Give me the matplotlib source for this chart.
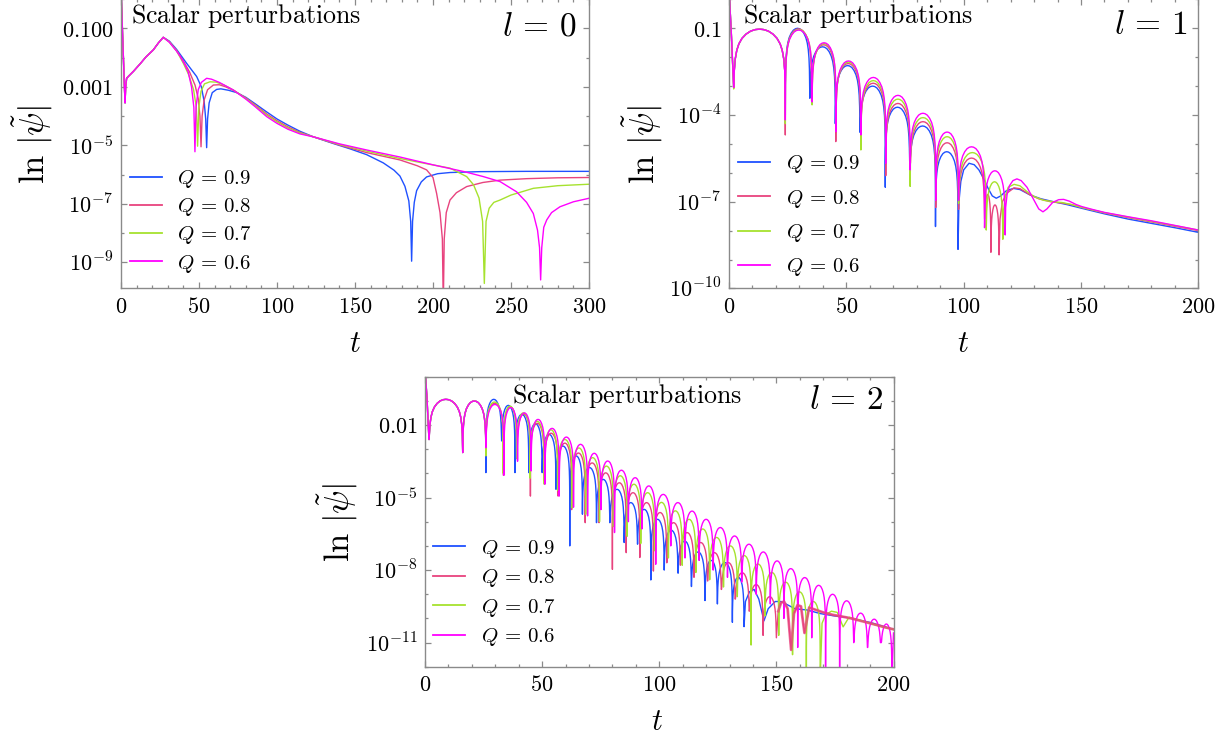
import matplotlib
matplotlib.use("Agg")
import matplotlib.pyplot as plt
from matplotlib.ticker import FixedLocator, FixedFormatter, NullFormatter
from matplotlib.lines import Line2D

plt.rcParams['mathtext.fontset'] = 'cm'
plt.rcParams['font.family'] = ['DejaVu Serif']

# ---------------- data (values are log10 |psi|) ----------------
Q_LABELS = [r'$Q\,=\,0.9$', r'$Q\,=\,0.8$', r'$Q\,=\,0.7$', r'$Q\,=\,0.6$']
COLORS = ['#1f50ff', '#e8437e', '#a6e22e', '#ff00ff']

# ---- l = 0 (smooth curves, read point by point)
L0_HEAD_T = [0.0, 1.2, 2.2, 2.6, 3.0, 3.6, 5.0, 8.0, 12.2, 16.0, 20.7, 24.0, 27.1]
L0_HEAD_V = [0.4, -1.5, -3.0, -3.55, -3.0, -2.71, -2.63, -2.47, -2.22, -1.98, -1.74, -1.5, -1.31]

L0_Q09_T = [31.0, 35.6, 42.1, 48.5, 51.5, 53.3, 54.3, 54.9, 55.5, 56.5, 58.5, 61.3, 64.0, 69.0, 74.2, 80.0, 86.0,
            93.4, 100.0, 107.0, 114.7, 123.3, 135.0, 146.8, 157.5, 168.1, 175.0, 178.8, 182.0, 184.5, 185.7, 186.3,
            186.9, 188.0, 189.5, 192.5, 195.9, 203.0, 210.9, 230.0, 260.0, 300.0]
L0_Q09_V = [-1.44, -1.72, -2.20, -2.65, -3.0, -3.5, -4.1, -5.08, -4.1, -3.55, -3.2, -3.09, -3.07, -3.12, -3.2, -3.36,
            -3.58, -3.86, -4.1, -4.31, -4.52, -4.71, -4.92, -5.12, -5.32, -5.6, -5.85, -6.05, -6.4, -6.9, -7.6, -8.96,
            -7.6, -6.95, -6.55, -6.25, -6.08, -5.97, -5.93, -5.9, -5.89, -5.89]

L0_Q08_T = [31.0, 35.6, 40.0, 44.0, 47.5, 49.5, 50.6, 51.3, 52.0, 53.3, 55.5, 59.2, 63.0, 67.0, 72.0, 80.0, 86.0,
            93.4, 100.0, 107.0, 114.7, 123.3, 140.0, 157.5, 178.8, 190.0, 195.9, 200.0, 202.3, 204.5, 206.0, 206.6,
            207.2, 208.5, 210.9, 215.0, 221.6, 232.0, 243.0, 260.0, 280.0, 300.0]
L0_Q08_V = [-1.46, -1.76, -2.12, -2.5, -2.95, -3.4, -4.0, -5.05, -4.0, -3.45, -3.1, -2.94, -2.93, -3.0, -3.12, -3.38,
            -3.62, -3.93, -4.16, -4.37, -4.56, -4.71, -4.99, -5.25, -5.5, -5.7, -5.84, -6.1, -6.64, -7.3, -8.2, -10.5,
            -8.2, -7.3, -6.87, -6.62, -6.41, -6.27, -6.19, -6.14, -6.11, -6.10]

L0_Q07_T = [31.0, 35.6, 40.0, 43.5, 46.5, 48.3, 49.1, 49.9, 51.3, 53.5, 57.0, 61.0, 66.0, 72.0, 80.0, 86.0, 93.4,
            100.0, 107.0, 114.7, 123.3, 140.0, 157.5, 178.8, 195.0, 210.9, 221.6, 226.0, 229.5, 231.8, 232.9, 234.0,
            236.0, 239.0, 243.0, 250.0, 264.3, 280.0, 300.0]
L0_Q07_V = [-1.47, -1.77, -2.2, -2.6, -3.1, -3.7, -5.03, -3.7, -3.15, -2.9, -2.83, -2.84, -2.94, -3.11, -3.40, -3.65,
            -3.97, -4.2, -4.41, -4.58, -4.71, -4.97, -5.2, -5.45, -5.62, -5.78, -6.07, -6.35, -6.8, -7.6, -9.72, -7.6,
            -7.15, -6.95, -6.87, -6.7, -6.47, -6.38, -6.33]

L0_Q06_T = [31.0, 35.6, 37.8, 41.0, 43.1, 45.2, 46.7, 47.4, 48.1, 49.5, 51.5, 54.9, 58.0, 63.0, 72.0, 80.0, 86.0,
            93.4, 100.0, 107.0, 114.7, 123.3, 140.0, 157.5, 178.8, 200.2, 220.0, 232.3, 243.0, 253.6, 260.0, 264.3,
            267.0, 268.3, 269.0, 269.7, 271.0, 272.9, 276.0, 281.4, 290.0, 300.0]
L0_Q06_V = [-1.48, -1.78, -1.95, -2.25, -2.5, -3.0, -3.7, -5.22, -3.7, -3.1, -2.85, -2.71, -2.74, -2.85, -3.11, -3.42,
            -3.68, -4.02, -4.25, -4.45, -4.61, -4.71, -4.95, -5.16, -5.4, -5.67, -5.9, -6.07, -6.24, -6.59, -6.95,
            -7.33, -7.9, -8.5, -9.6, -8.5, -7.8, -7.55, -7.3, -7.10, -6.93, -6.81]

# ---- l = 1 (ringing: dip times, dip depths, lobe peaks, then late tail)
L1_HEAD_T = [0.0, 1.0, 2.0]
L1_HEAD_V = [0.4, -1.2, -3.05]

L1_Q09_DIPS = [2.0, 24.0, 34.4, 45.3, 55.8, 66.6, 77.0, 88.0, 97.6]
L1_Q09_DEPTH = [-3.05, -4.0, -3.42, -4.3, -4.6, -6.5, -5.6, -7.86, -8.65]
L1_Q09_PEAK = [-1.03, -1.00, -1.64, -2.29, -3.00, -3.73, -4.38, -5.27]
L1_Q09_TAIL_T = [98.0, 98.8, 100.0, 102.3, 104.5, 106.5, 108.5, 110.5, 112.2, 113.9, 115.8, 118.2, 121.2, 124.0,
                 128.4, 133.0, 138.3, 144.0, 150.4, 160.0, 170.0, 180.0, 190.0, 200.0]
L1_Q09_TAIL_V = [-7.0, -6.3, -5.9, -5.67, -5.72, -5.9, -6.2, -6.55, -6.8, -6.88, -6.8, -6.62, -6.54, -6.58, -6.77,
                 -6.9, -7.0, -7.1, -7.23, -7.42, -7.6, -7.75, -7.9, -8.06]

L1_Q08_DIPS = [2.0, 24.0, 35.2, 45.5, 56.1, 66.8, 77.2, 88.1, 97.8, 108.9, 111.6, 115.1]
L1_Q08_DEPTH = [-3.05, -4.69, -3.5, -4.92, -4.8, -6.1, -5.7, -7.2, -7.26, -7.6, -8.75, -8.84]
L1_Q08_PEAK = [-1.03, -1.02, -1.57, -2.22, -2.90, -3.60, -4.23, -4.96, -5.49, -6.75, -7.11]
L1_Q08_TAIL_T = [115.5, 116.5, 118.5, 121.5, 124.0, 128.0, 132.0, 137.0, 142.0, 146.0, 150.4, 160.0, 170.0, 180.0,
                 190.0, 200.0]
L1_Q08_TAIL_V = [-7.6, -7.0, -6.7, -6.52, -6.55, -6.75, -6.9, -7.0, -7.05, -7.1, -7.2, -7.39, -7.55, -7.7, -7.85, -8.0]

L1_Q07_DIPS = [2.0, 24.0, 35.4, 45.6, 56.2, 66.8, 77.2, 88.1, 97.8, 109.6, 116.7]
L1_Q07_DEPTH = [-3.1, -4.3, -3.65, -4.4, -5.21, -5.5, -6.47, -6.7, -7.06, -7.98, -8.3]
L1_Q07_PEAK = [-1.03, -1.04, -1.53, -2.17, -2.81, -3.45, -4.09, -4.75, -5.30, -6.31]
L1_Q07_TAIL_T = [117.0, 117.8, 119.0, 121.5, 124.0, 127.0, 130.0, 134.0, 138.0, 142.0, 146.0, 150.4, 160.0, 170.0,
                 180.0, 190.0, 200.0]
L1_Q07_TAIL_V = [-7.3, -6.8, -6.5, -6.4, -6.45, -6.65, -6.82, -6.95, -7.0, -7.03, -7.1, -7.2, -7.38, -7.53, -7.68,
                 -7.83, -7.98]

L1_Q06_DIPS = [2.0, 24.0, 35.4, 45.6, 56.2, 66.8, 77.2, 88.1, 97.8, 108.9, 117.7]
L1_Q06_DEPTH = [-3.05, -4.17, -3.55, -4.58, -4.69, -5.67, -5.9, -6.95, -6.95, -7.9, -8.15]
L1_Q06_PEAK = [-1.03, -1.06, -1.50, -2.13, -2.70, -3.32, -3.94, -4.59, -5.10, -5.93]
L1_Q06_TAIL_T = [117.9, 118.5, 119.5, 121.0, 122.7, 124.5, 127.0, 130.0, 132.0, 133.8, 135.5, 138.0, 140.5, 142.6,
                 145.0, 148.0, 150.4, 155.0, 160.0, 170.0, 180.0, 190.0, 200.0]
L1_Q06_TAIL_V = [-7.2, -6.75, -6.45, -6.27, -6.21, -6.27, -6.5, -6.95, -7.25, -7.35, -7.25, -7.02, -6.93, -6.92,
                 -6.98, -7.1, -7.17, -7.27, -7.37, -7.52, -7.66, -7.82, -7.98]

# ---- l = 2
L2_HEAD_T = [0.0, 0.8, 1.7]
L2_HEAD_V = [0.3, -0.8, -2.6]

L2_Q09_DIPS = [1.7, 16.1, 26.0, 32.7, 38.4, 44.3, 50.0, 55.9, 61.8, 67.2, 73.2, 78.9, 85.0, 90.7, 96.4, 102.1, 108.0,
               113.7, 119.5, 124.8, 131.2, 136.2]
L2_Q09_DEPTH = [-2.6, -3.14, -3.97, -2.66, -3.97, -3.97, -3.97, -4.66, -7.0, -5.69, -6.04, -6.04, -6.86, -6.93, -8.41,
                -8.0, -8.13, -8.68, -9.26, -9.40, -10.16, -10.34]
L2_Q09_PEAK = [-0.94, -1.01, -0.94, -1.19, -1.56, -1.95, -2.39, -2.87, -3.28, -3.76, -4.25, -4.66, -5.21, -5.49,
               -5.90, -6.35, -6.80, -7.25, -7.60, -7.69, -8.30]
L2_Q09_TAIL_T = [136.8, 138.5, 140.5, 142.5, 144.7, 146.5, 149.5, 152.0, 155.0, 158.0, 163.0, 168.8, 175.0, 180.2,
                 190.2, 200.0]
L2_Q09_TAIL_V = [-9.3, -8.9, -8.8, -9.2, -10.1, -9.6, -9.3, -9.3, -9.45, -9.6, -9.65, -9.8, -9.9, -9.96, -10.17,
                 -10.45]

L2_Q08_DIPS = [1.7, 16.1, 26.0, 33.5, 39.3, 45.0, 50.9, 56.8, 62.6, 68.4, 74.3, 80.0, 85.9, 91.7, 97.5, 103.2, 109.0,
               114.8, 120.6, 126.5, 132.4, 138.4, 144.3, 150.0]
L2_Q08_DEPTH = [-2.6, -3.14, -3.0, -4.08, -3.4, -4.94, -4.3, -4.94, -5.5, -6.04, -6.04, -7.97, -7.28, -7.48, -8.04,
                -7.7, -7.8, -8.3, -8.45, -8.8, -9.2, -9.7, -10.7, -10.8]
L2_Q08_PEAK = [-0.94, -1.01, -1.10, -1.25, -1.55, -1.93, -2.34, -2.75, -3.16, -3.57, -3.98, -4.39, -4.80, -5.21,
               -5.62, -6.04, -6.45, -6.86, -7.28, -7.69, -8.11, -8.60, -9.10]
L2_Q08_TAIL_T = [150.8, 152.0, 153.3, 154.8, 156.3, 157.5, 159.0, 160.5, 162.0, 164.0, 167.0, 170.0, 174.0, 178.0,
                 182.0, 186.0, 190.0, 194.0, 197.0, 200.0]
L2_Q08_TAIL_V = [-9.7, -9.35, -9.3, -9.6, -11.3, -9.8, -9.45, -9.5, -10.6, -9.55, -9.65, -9.75, -9.85, -9.92, -10.0,
                 -10.1, -10.2, -10.3, -10.38, -10.45]

L2_Q07_DIPS = [1.7, 16.1, 26.0, 33.4, 39.1, 44.9, 50.9, 56.6, 62.8, 68.6, 74.5, 80.4, 86.3, 92.1, 98.0, 103.9, 109.8,
               115.6, 121.5, 127.4, 133.3, 139.2, 145.1, 151.0, 156.9, 162.8, 168.7]
L2_Q07_DEPTH = [-2.6, -3.14, -3.28, -4.0, -3.39, -4.2, -4.45, -4.7, -5.42, -5.7, -6.0, -6.2, -6.6, -6.9, -7.2, -7.5,
                -7.8, -8.1, -8.4, -8.7, -9.1, -11.1, -9.9, -10.7, -11.5, -12.5, -12.5]
L2_Q07_PEAK = [-0.94, -1.01, -1.05, -1.22, -1.50, -1.85, -2.20, -2.60, -2.95, -3.35, -3.70, -4.10, -4.45, -4.80,
               -5.20, -5.55, -5.90, -6.30, -6.65, -7.00, -7.40, -7.75, -8.10, -8.50, -8.90, -9.30]
L2_Q07_TAIL_T = [169.5, 171.0, 173.5, 176.0, 178.5, 181.0, 185.0, 190.0, 195.0, 200.0]
L2_Q07_TAIL_V = [-10.2, -9.85, -9.7, -9.75, -10.35, -9.95, -10.05, -10.2, -10.35, -10.45]

L2_Q06_DIPS = [1.7, 16.1, 26.0, 33.7, 39.5, 45.3, 51.2, 57.3, 63.4, 69.4, 75.1, 80.9, 86.8, 92.6, 98.5, 104.9, 111.0,
               117.0, 123.0, 129.1, 135.2, 141.4, 147.4, 153.2, 159.1, 165.1, 171.0, 177.0, 183.0, 188.9, 194.6, 199.3]
L2_Q06_DEPTH = [-2.6, -3.14, -2.94, -4.08, -3.5, -3.9, -4.45, -4.94, -5.4, -5.76, -5.5, -6.45, -6.0, -6.3, -7.76,
                -7.0, -7.5, -7.6, -8.0, -8.3, -8.5, -9.0, -9.4, -10.0, -11.2, -10.8, -12.5, -12.5, -11.0, -11.2,
                -11.0, -12.5]
L2_Q06_PEAK = [-0.94, -1.01, -1.15, -1.28, -1.50, -1.77, -2.14, -2.50, -2.80, -3.17, -3.49, -3.87, -4.18, -4.52,
               -4.87, -5.21, -5.56, -5.90, -6.24, -6.59, -6.93, -7.25, -7.62, -7.94, -8.31, -8.63, -9.00, -9.27,
               -9.78, -10.03, -10.23]
L2_Q06_TAIL_T = [200.0]
L2_Q06_TAIL_V = [-10.6]

# ---------------- styling constants ----------------
# shape of one ringing lobe on a log axis (fraction of lobe width, decades below the lobe's peak)
ARCH_U = [0.0, 0.004, 0.012, 0.03, 0.06, 0.1, 0.16, 0.24, 0.33, 0.42, 0.5,
          0.58, 0.67, 0.76, 0.84, 0.9, 0.94, 0.97, 0.988, 0.996, 1.0]
ARCH_OFF = [0.0, -1.90, -1.42, -1.03, -0.73, -0.51, -0.32, -0.17, -0.065, -0.014, 0.0,
            -0.014, -0.065, -0.17, -0.32, -0.51, -0.73, -1.03, -1.42, -1.90, 0.0]

W, H = 1229, 742
SPINE = '#8a8a8a'
LW = 1.0


def lobes(dips, depths, peaks):
    t, v = [], []
    for i, p in enumerate(peaks):
        a, b = dips[i], dips[i + 1]
        for u, off in zip(ARCH_U, ARCH_OFF):
            if u == 0.0:
                y = depths[i]
            elif u == 1.0:
                y = depths[i + 1]
            else:
                floor = depths[i] if u < 0.5 else depths[i + 1]
                y = max(p + off, floor)
            t.append(a + u * (b - a))
            v.append(y)
    return t, v


def pow10(v):
    return [10.0 ** x for x in v]


fig = plt.figure(figsize=(W / 100, H / 100), dpi=100)


def add_ax(l, r, t, b):
    return fig.add_axes([l / W, 1 - b / H, (r - l) / W, (b - t) / H])


def style(ax, xmax, ylim, ymajor, ylabels):
    ax.set_yscale('log')
    ax.set_xlim(0, xmax)
    ax.set_ylim(10.0 ** ylim[0], 10.0 ** ylim[1])
    for s in ax.spines.values():
        s.set_color(SPINE)
        s.set_linewidth(1.0)
    ax.xaxis.set_major_locator(FixedLocator(list(range(0, xmax + 1, 50))))
    ax.xaxis.set_major_formatter(FixedFormatter(['$%d$' % k for k in range(0, xmax + 1, 50)]))
    ax.xaxis.set_minor_locator(FixedLocator(list(range(0, xmax + 1, 10))))
    ax.yaxis.set_major_locator(FixedLocator([10.0 ** e for e in ymajor]))
    ax.yaxis.set_major_formatter(FixedFormatter(ylabels))
    lo, hi = int(round(ylim[0] - 0.5)), int(round(ylim[1] + 0.5))
    ax.yaxis.set_minor_locator(FixedLocator([10.0 ** e for e in range(lo, hi + 1)]))
    ax.yaxis.set_minor_formatter(NullFormatter())
    ax.tick_params(which='both', direction='in', top=True, right=True, color=SPINE, width=0.9)
    ax.tick_params(which='major', length=4.0, labelsize=16, pad=5.5)
    ax.tick_params(which='minor', length=2.4)


def px2ax(box, x, y):
    l, r, t, b = box
    return ((x - l) / (r - l), (b - y) / (b - t))


def panel_text(lab_x, lab_y, ell_x, ell_y, ell, ylab_xy, xlab_xy):
    fig.text(lab_x / W, 1 - lab_y / H, r'$\mathrm{Scalar\ perturbations}$', fontsize=18.6,
             ha='left', va='baseline')
    fig.text(ell_x / W, 1 - ell_y / H, ell, fontsize=24, ha='right', va='baseline')
    fig.text(ylab_xy[0] / W, 1 - ylab_xy[1] / H, r'$\ln\,|\tilde{\psi}|$', fontsize=25,
             rotation=90, ha='center', va='center')
    fig.text(xlab_xy[0] / W, 1 - xlab_xy[1] / H, r'$t$', fontsize=22, ha='center', va='center')


def add_legend(ax, box, x, y, spacing):
    handles = [Line2D([], [], color=c, lw=1.3) for c in COLORS]
    ax.legend(handles, Q_LABELS, loc='upper left', bbox_to_anchor=px2ax(box, x, y),
              frameon=False, fontsize=15, handlelength=1.52, handletextpad=0.75,
              labelspacing=spacing, borderaxespad=0, borderpad=0)


# ---------------- l = 0 ----------------
box0 = (121, 589, -1, 288.4)
ax0 = add_ax(*box0)
for (T, V), c in zip([(L0_Q09_T, L0_Q09_V), (L0_Q08_T, L0_Q08_V), (L0_Q07_T, L0_Q07_V), (L0_Q06_T, L0_Q06_V)],
                     COLORS):
    ax0.plot(L0_HEAD_T + T, pow10(L0_HEAD_V + V), color=c, lw=LW)
style(ax0, 300, (-9.89, 0.0), [-1, -3, -5, -7, -9],
      ['$0.100$', '$0.001$', '$10^{-5}$', '$10^{-7}$', '$10^{-9}$'])
add_legend(ax0, box0, 130, 168.0, 0.30)
panel_text(131, 23.3, 577, 35, r'$l\,=\,0$', (33, 145), (355, 344))

# ---------------- l = 1 ----------------
box1 = (729, 1198.3, -1, 288.4)
ax1 = add_ax(*box1)
for dips, dep, pk, tt, tv, c in [
        (L1_Q09_DIPS, L1_Q09_DEPTH, L1_Q09_PEAK, L1_Q09_TAIL_T, L1_Q09_TAIL_V, COLORS[0]),
        (L1_Q08_DIPS, L1_Q08_DEPTH, L1_Q08_PEAK, L1_Q08_TAIL_T, L1_Q08_TAIL_V, COLORS[1]),
        (L1_Q07_DIPS, L1_Q07_DEPTH, L1_Q07_PEAK, L1_Q07_TAIL_T, L1_Q07_TAIL_V, COLORS[2]),
        (L1_Q06_DIPS, L1_Q06_DEPTH, L1_Q06_PEAK, L1_Q06_TAIL_T, L1_Q06_TAIL_V, COLORS[3])]:
    lt, lv = lobes(dips, dep, pk)
    ax1.plot(L1_HEAD_T + lt + tt, pow10(L1_HEAD_V + lv + tv), color=c, lw=LW)
style(ax1, 200, (-10.0, 0.014), [-1, -4, -7, -10],
      ['$0.1$', '$10^{-4}$', '$10^{-7}$', '$10^{-10}$'])
add_legend(ax1, box1, 738.3, 153.3, 0.59)
panel_text(743, 23.5, 1187, 33.5, r'$l\,=\,1$', (643, 145), (963, 344))

# ---------------- l = 2 ----------------
box2 = (425, 893.5, 376.6, 666.8)
ax2 = add_ax(*box2)
for dips, dep, pk, tt, tv, c in [
        (L2_Q09_DIPS, L2_Q09_DEPTH, L2_Q09_PEAK, L2_Q09_TAIL_T, L2_Q09_TAIL_V, COLORS[0]),
        (L2_Q08_DIPS, L2_Q08_DEPTH, L2_Q08_PEAK, L2_Q08_TAIL_T, L2_Q08_TAIL_V, COLORS[1]),
        (L2_Q07_DIPS, L2_Q07_DEPTH, L2_Q07_PEAK, L2_Q07_TAIL_T, L2_Q07_TAIL_V, COLORS[2]),
        (L2_Q06_DIPS, L2_Q06_DEPTH, L2_Q06_PEAK, L2_Q06_TAIL_T, L2_Q06_TAIL_V, COLORS[3])]:
    lt, lv = lobes(dips, dep, pk)
    ax2.plot(L2_HEAD_T + lt + tt, pow10(L2_HEAD_V + lv + tv), color=c, lw=LW)
# noisy late-time band of the Q = 0.8 signal
ax2.plot(L2_Q08_TAIL_T, pow10(L2_Q08_TAIL_V), color=COLORS[1], lw=2.0, alpha=0.75)
style(ax2, 200, (-12.0, 0.0), [-2, -5, -8, -11],
      ['$0.01$', '$10^{-5}$', '$10^{-8}$', '$10^{-11}$'])
add_legend(ax2, box2, 433.3, 537.7, 0.36)
panel_text(512, 402.5, 883, 409, r'$l\,=\,2$', (337.5, 523), (657.5, 721.7))

fig.savefig('out.png', dpi=100)
